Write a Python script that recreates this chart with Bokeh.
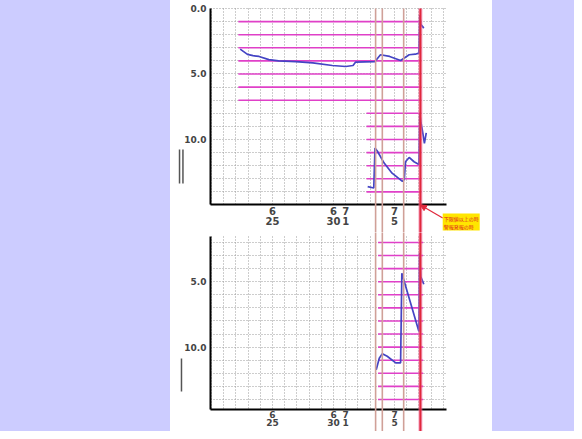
from bokeh.plotting import figure
from bokeh.layouts import row, column
from bokeh.models import (Div, Range1d, FixedTicker, BoxAnnotation, Arrow, NormalHead, Label,
                          Grid)
from bokeh.embed import file_html
from bokeh.resources import INLINE

# ---------------- data ----------------
tick_days = [25, 30, 31, 35]
tick_labels = ["6\n25", "6\n30", "7\n1", "7\n5"]
grid_days = [20, 21, 22, 23, 24, 25, 26, 27, 28, 29, 30, 31, 32, 33, 34, 35, 36, 37, 38, 39]
top_grid_levels = [0, 1, 2, 3, 4, 5, 6, 7, 8, 9, 10, 11, 12, 13, 14, 15]
bot_grid_levels = [2, 3, 4, 5, 6, 7, 8, 9, 10, 11, 12, 13, 14]

top_a_day = [22.35, 22.95, 23.4, 23.9, 24.7, 25.5, 26.9, 28.3, 29.9, 31.0, 31.6, 31.8,
             33.4, 33.85, 34.6, 35.5, 36.2, 36.7, 37.0, 37.07, 37.15, 37.4]
top_a_val = [3.1, 3.5, 3.6, 3.66, 3.9, 4.0, 4.05, 4.15, 4.35, 4.43, 4.35, 4.1,
             4.05, 3.53, 3.66, 3.97, 3.53, 3.49, 3.41, 0.5, 1.2, 1.5]

top_b_day = [32.8, 33.3, 33.4, 33.6, 34.15, 34.8, 35.65, 35.8, 35.9, 36.2, 36.6, 37.0,
             37.07, 37.15, 37.3, 37.45, 37.6]
top_b_val = [13.6, 13.7, 10.66, 10.9, 11.8, 12.57, 13.2, 13.05, 11.7, 11.37, 11.7, 11.9,
             8.0, 8.6, 9.4, 10.3, 9.5]

bot_day = [33.5, 33.75, 34.0, 34.4, 35.1, 35.5, 35.6, 37.0, 37.05, 37.15, 37.4]
bot_val = [11.74, 10.85, 10.5, 10.7, 11.2, 11.2, 4.35, 8.8, 2.8, 4.6, 5.2]

top_upper_levels = [1, 2, 3, 4, 5, 6, 7]
top_upper_start = [22.2] * 7
top_upper_end = [37.2] * 7
top_lower_levels = [8, 9, 10, 11, 12, 13, 14]
top_lower_start = [32.7] * 7
top_lower_end = [37.2] * 7
bot_levels = [2, 3, 4, 5, 6, 7, 8, 9, 10, 11, 12, 13, 14]
bot_start = [33.65] * 13
bot_end = [37.35] * 13

event_days = [33.45, 34.0, 35.75]
alarm_day = 37.12

note_text = "下限値以上の時\n警報発報の時"

# ---------------- styling ----------------
LAV = "#ccccff"
BLUE = "#4444c4"
MAG = "#e040c8"
EVT = "#d0a098"
RED = "#e0283c"
FONT = "DejaVu Sans"

# x extents (days): data window and full frame
X0, X1 = 19.92, 39.26
XF0, XF1 = 16.64, 43.03
HAS_CB = "cross_bounds" in Grid.properties()


def style(p, y_lo, y_hi, x_axis_at, yticks, yover, glevels, xl_size, xl_height, xl_off):
    p.outline_line_color = None
    p.background_fill_color = "white"
    p.border_fill_color = "white"
    p.min_border_left = 0
    p.min_border_right = 0
    p.min_border_bottom = 0
    p.min_border_top = 0
    xa, ya = p.xaxis[0], p.yaxis[0]
    xa.ticker = FixedTicker(ticks=tick_days)
    xa.major_label_overrides = dict(zip(tick_days, tick_labels))
    xa.fixed_location = x_axis_at
    xa.bounds = (X0, X1)
    ya.ticker = FixedTicker(ticks=yticks)
    ya.major_label_overrides = dict(zip(yticks, yover))
    ya.fixed_location = X0
    ya.bounds = (y_lo, y_hi)
    for ax in (xa, ya):
        ax.axis_line_color = "black"
        ax.axis_line_width = 2
        ax.major_tick_line_color = None
        ax.minor_tick_line_color = None
        ax.major_tick_out = 0
        ax.major_tick_in = 0
        ax.minor_tick_out = 0
        ax.major_label_text_font = FONT
        ax.major_label_text_font_style = "bold"
        ax.major_label_text_color = "#444444"
    ya.major_label_text_font_size = "9px"
    ya.major_label_standoff = 4
    xa.major_label_text_font_size = xl_size
    xa.major_label_standoff = xl_off
    xa.major_label_text_line_height = xl_height
    xg, yg = p.xgrid[0], p.ygrid[0]
    xg.ticker = FixedTicker(ticks=grid_days)
    yg.ticker = FixedTicker(ticks=glevels)
    for g in (xg, yg):
        g.grid_line_color = "#9a9a9a"
        g.grid_line_dash = "1 2"
        g.grid_line_width = 1
    if HAS_CB:
        xg.cross_bounds = (y_lo, y_hi)
        yg.cross_bounds = (X0, X1)


def vline(p, x, top, bottom, color, width, alpha=1.0):
    p.add_layout(BoxAnnotation(left=x, right=x, top=top, bottom=bottom, fill_alpha=0,
                               line_alpha=alpha, line_color=color, line_width=width))


def event_lines(p, top, bottom):
    for d in event_days:
        vline(p, d, top, bottom, EVT, 1.6)
    vline(p, alarm_day, top, bottom, "#f070a0", 4, 0.6)
    vline(p, alarm_day, top, bottom, RED, 2)


# ---------------- top panel ----------------
pt = figure(width=322, height=232, output_backend="svg", toolbar_location=None,
            x_range=Range1d(XF0, XF1), y_range=Range1d(17.1, -0.61))
style(pt, 0, 15, 15, [0, 5, 10], ["0.0", "5.0", "10.0"], top_grid_levels, "10px", 0.9, 1)

pt.segment(x0=top_upper_start, y0=top_upper_levels, x1=top_upper_end, y1=top_upper_levels,
           line_color=MAG, line_width=1.6)
pt.segment(x0=top_lower_start, y0=top_lower_levels, x1=top_lower_end, y1=top_lower_levels,
           line_color=MAG, line_width=1.6)
event_lines(pt, 0, 18)
pt.line(top_a_day, top_a_val, line_color=BLUE, line_width=1.7)
pt.line(top_b_day, top_b_val, line_color=BLUE, line_width=1.7)

# decorative double bar left of the axis
for xx in (17.38, 17.66):
    vline(pt, xx, 10.76, 13.36, "#555555", 1.5)

pt.add_layout(Arrow(x_start=38.95, y_start=16.0, x_end=alarm_day, y_end=15.0,
                    line_color=RED, line_width=1.2,
                    end=NormalHead(size=6, fill_color=RED, line_color=RED)))
pt.add_layout(Label(x=38.95, y=15.65, text=note_text, text_font="Noto Sans CJK JP",
                    text_font_size="5px", text_color="#e02020", text_baseline="top",
                    background_fill_color="#ffe600", text_line_height=1.15,
                    padding=1))

# ---------------- bottom panel ----------------
pb = figure(width=322, height=199, output_backend="svg", toolbar_location=None,
            x_range=Range1d(XF0, XF1), y_range=Range1d(16.45, 1.24))
style(pb, 1.54, 14.8, 14.8, [5, 10], ["5.0", "10.0"], bot_grid_levels, "9px", 0.85, 0)

pb.segment(x0=bot_start, y0=bot_levels, x1=bot_end, y1=bot_levels,
           line_color=MAG, line_width=1.6)
event_lines(pb, 0, 18)
pb.line(bot_day, bot_val, line_color=BLUE, line_width=1.7)
vline(pb, 17.54, 10.87, 13.39, "#555555", 1.5)

# ---------------- page ----------------
def block(w, h, color):
    return Div(text="", width=w, height=h, margin=0,
               styles={"background-color": color})

center = column(pt, pb, spacing=0)
page = row(block(170, 431, LAV), center, block(82, 431, LAV), spacing=0)

open("out.html", "w").write(file_html(page, INLINE))
